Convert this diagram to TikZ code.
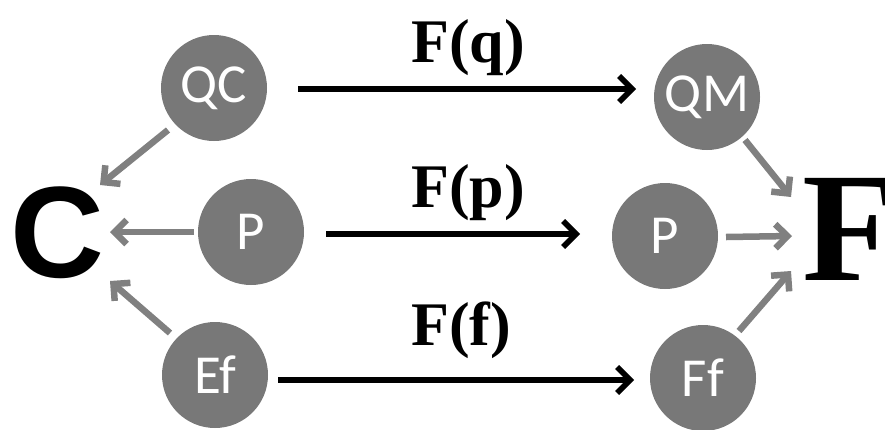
\documentclass[tikz,border=0pt]{standalone}
\usepackage{fontspec}
\setmainfont{Liberation Serif}
\newfontfamily\circfont{Carlito}
\newfontfamily\bigsans{Liberation Sans}
\usetikzlibrary{arrows.meta}
\definecolor{nodegray}{HTML}{787878}
\definecolor{arrgray}{HTML}{808080}
\begin{document}
\begin{tikzpicture}[x=1pt,y=-1pt,
  obj/.style={circle,fill=nodegray,minimum size=106pt,inner sep=0pt,text=white,
    font=\circfont\fontsize{55}{55}\selectfont},
  maparrow/.style={line width=5.5pt,black,-{Straight Barb[length=13pt,width=26pt]}},
  grayarrow/.style={line width=6.5pt,arrgray,-{Straight Barb[length=12pt,width=24pt]}},
  flabel/.style={anchor=base west,inner sep=0pt,font=\fontsize{62}{62}\selectfont\bfseries}]
\useasboundingbox (0,0) rectangle (885,429);
% objects
\node[obj] (QC) at (214,88) {QC};
\node[obj] (PL) at (251,232) {P};
\node[obj] (EF) at (215,375) {Ef};
\node[obj] (QM) at (707,97) {QM};
\node[obj] (PR) at (665,236) {P};
\node[obj] (FF) at (703,378) {Ff};
% big letters
\node[anchor=base,inner sep=0pt,font=\bigsans\bfseries\fontsize{130}{130}\selectfont] (C) at (57,277) {C};
\node[anchor=base west,inner sep=0pt,font=\bfseries\fontsize{156}{156}\selectfont] (F) at (802,280) {F};
% arrow end coordinates
\coordinate (CQ) at (100,185);
\coordinate (CP) at (110,232);
\coordinate (CE) at (110,281);
\coordinate (FQ) at (791,197);
\coordinate (FP) at (792,236);
\coordinate (FE) at (791,271);
\coordinate (QCs) at (168,130);
\coordinate (PLs) at (194,232);
\coordinate (EFs) at (170,333);
\coordinate (QMs) at (745,140);
\coordinate (PRs) at (726,237);
\coordinate (FFs) at (739,331);
% gray arrows
\draw[grayarrow] (QCs) -- (CQ);
\draw[grayarrow] (PLs) -- (CP);
\draw[grayarrow] (EFs) -- (CE);
\draw[grayarrow] (QMs) -- (FQ);
\draw[grayarrow] (PRs) -- (FP);
\draw[grayarrow] (FFs) -- (FE);
% functor arrows
\coordinate (q1) at (298,89);
\coordinate (q2) at (636,89);
\coordinate (p1) at (326,234);
\coordinate (p2) at (580,234);
\coordinate (f1) at (278,380);
\coordinate (f2) at (634,380);
\draw[maparrow] (q1) -- (q2);
\draw[maparrow] (p1) -- (p2);
\draw[maparrow] (f1) -- (f2);
% labels
\node[flabel] (Lq) at (411,62) {F(q)};
\node[flabel] (Lp) at (411,207) {F(p)};
\node[flabel] (Lf) at (411,345) {F(f)};
\end{tikzpicture}
\end{document}
